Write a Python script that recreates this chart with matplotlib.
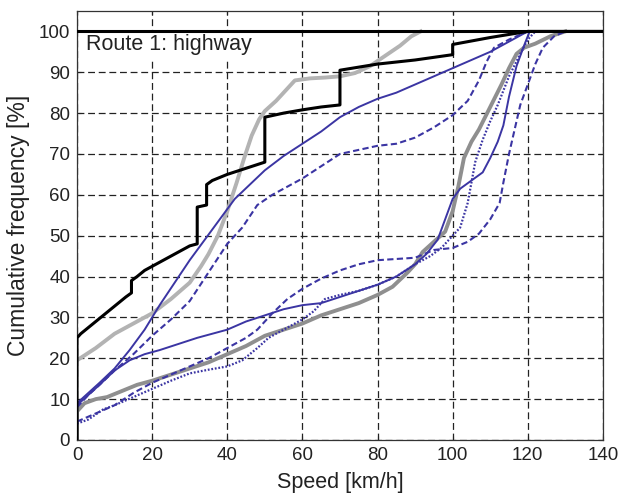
import numpy as np
import matplotlib.pyplot as plt

plt.rcParams.update({
    'font.family': ['Liberation Sans', 'DejaVu Sans'],
    'font.size': 13,
    'xtick.direction': 'in',
    'ytick.direction': 'in',
    'xtick.top': True,
    'ytick.right': True,
})

# black step curve
black_x = [0, 0, 1, 3, 5, 7, 9, 11, 13, 14.5, 14.5, 16, 18, 20, 22, 24, 26, 28, 30, 32, 32,
           34.5, 34.5, 36, 40, 45, 50, 50, 55, 60, 65, 70, 70, 80, 90, 100, 100, 110, 120, 140]
black_y = [0, 25, 26, 27.5, 29, 30.5, 32, 33.5, 35, 36, 39, 40, 41.5, 42.5, 43.5, 44.5, 45.5, 46.5, 47.5, 48, 57,
           57.5, 62.5, 63.5, 65, 66.5, 68, 79, 80, 80.8, 81.5, 82, 90.5, 92, 93, 94.3, 96.8, 98.5, 100, 100]

# light grey (upper)
lgrey_x = [0, 5, 10, 15, 20, 25, 30, 33, 35, 37.5, 40, 42.5, 44.5, 46.5, 48.5, 50, 53, 56, 58,
           62, 66, 70, 74, 78, 82, 86, 89, 91.5]
lgrey_y = [19.5, 22.5, 26, 28.5, 31, 34.5, 38.5, 42.5, 45.5, 50, 56, 63, 69, 74.5, 78.5, 80.5, 83, 86, 88,
           88.5, 88.7, 89, 89.8, 91.5, 94, 96.5, 98.8, 100]

# dark grey (lower)
dgrey_x = [0, 0, 2, 5, 8, 12, 16, 20, 25, 30, 35, 40, 45, 50, 55, 60, 65, 70, 75, 80, 84, 88, 90, 92,
           95, 98, 100, 101.5, 103, 105, 107, 110, 113, 115, 117, 119, 122, 126, 130]
dgrey_y = [0, 7, 9, 10, 10.5, 12, 13.5, 14.5, 16, 17.5, 19, 21, 23, 25.5, 27, 28.5, 30.5, 32, 33.5, 35.5, 37.5, 41, 43, 46,
           48.5, 51, 56, 62, 69, 73, 76, 81.5, 87, 91, 94.5, 96, 97, 98.8, 100]

# blue upper solid
bus_x = [0, 3, 6, 10, 14, 18, 22, 26, 30, 34, 38, 42, 46, 50, 55, 60, 65, 70, 75, 80, 85, 90, 95, 100,
         105, 110, 115, 120]
bus_y = [9, 11.5, 14, 17.5, 22, 27, 33, 38.5, 44, 49, 54, 59, 62.5, 66, 69.5, 72.5, 75.5, 79, 81.5, 83.5, 85, 87, 89, 91,
         93, 95, 97.5, 100]

# blue upper dashed
bud_x = [0, 3, 6, 10, 15, 20, 25, 30, 35, 40, 44, 48, 52, 56, 60, 65, 70, 75, 80, 85, 90, 95, 100,
         104, 107, 109, 111, 115, 120]
bud_y = [8, 11, 13.5, 17, 21, 25.5, 29.5, 34, 41, 48, 52, 57.5, 60, 62, 64, 67, 70, 71, 72, 72.5, 74, 76.5, 79.5,
         83, 88, 92.5, 96, 98, 100]

# blue lower solid
bls_x = [0, 3, 6, 10, 14, 18, 22, 27, 32, 36, 40, 45, 50, 55, 60, 65, 70, 75, 80, 85, 90, 93, 96, 98,
         100, 102, 105, 108, 110, 112, 113.5, 115, 117, 119, 120.5]
bls_y = [8.5, 11, 13.5, 17, 19.5, 21, 22, 23.5, 25, 26, 27, 29, 30.5, 32, 33, 33.5, 35, 36.5, 38, 40, 43, 45.5, 49, 54,
         59, 61.5, 63.5, 65.5, 69, 73, 77, 84, 91.5, 96.5, 100]

# blue lower dashed
bld_x = [0, 5, 10, 15, 20, 25, 30, 35, 40, 45, 48, 52, 56, 60, 65, 70, 75, 80, 85, 90, 95, 100,
         104, 107, 110, 112.5, 113.5, 115, 116.5, 118, 120, 122, 124, 127, 130]
bld_y = [4.5, 6.5, 8.5, 11.5, 14, 16, 18, 20, 22.5, 25, 27, 31, 34.5, 37, 39.5, 41.5, 43, 44, 44.3, 44.6, 46.5, 47,
         48.5, 50.5, 54, 58, 63, 70, 76, 82, 87, 92, 96, 98.8, 100]

# blue dotted
bdot_x = [0, 3, 7, 10, 15, 20, 25, 30, 35, 40, 44, 48, 51, 54, 57, 60, 63, 66, 70, 75, 80, 85, 90,
          94, 97, 100, 102, 104, 105, 106, 108, 110, 112, 115, 118, 120, 122]
bdot_y = [4, 5, 7.5, 8.5, 10.5, 12.5, 14.5, 16.3, 17.2, 18, 19.5, 22.5, 25, 26.5, 28, 29.5, 31.5, 34.5, 35.5, 36.5, 38, 40, 43,
          45, 47, 50, 52, 58, 63, 68, 73.5, 78, 82, 89, 94.5, 98, 100]

blue = '#3b35a3'

fig = plt.figure(figsize=(6.18, 4.98), dpi=100)
ax = fig.add_axes([0.1246, 0.1165, 0.851, 0.8615])

ax.plot(lgrey_x, lgrey_y, color='#b3b3b3', lw=2.8, zorder=2)
ax.plot(dgrey_x, dgrey_y, color='#8f8f8f', lw=2.8, zorder=2)
ax.plot(bus_x, bus_y, color=blue, lw=1.4, zorder=3)
ax.plot(bud_x, bud_y, color=blue, lw=1.5, dashes=(3, 1.6), zorder=3)
ax.plot(bls_x, bls_y, color=blue, lw=1.4, zorder=3)
ax.plot(bld_x, bld_y, color=blue, lw=1.5, dashes=(3, 1.6), zorder=3)
ax.plot(bdot_x, bdot_y, color=blue, lw=1.6, dashes=(0.8, 0.8), zorder=3)
ax.plot(black_x, black_y, color='black', lw=2.2, zorder=4)
ax.axhline(100, color='black', lw=2.2, zorder=4)

ax.text(2.5, 96.7, 'Route 1: highway', fontsize=15.5, va='center', ha='left', zorder=2.5,
        color='#222222', bbox=dict(boxstyle='square,pad=0.2', fc='white', ec='none'))

ax.set_xlim(0, 140)
ax.set_ylim(0, 105)
ax.set_xticks(np.arange(0, 141, 20))
ax.set_yticks(np.arange(0, 101, 10))
ax.grid(True, color='#222222', linestyle=(0, (5.5, 3)), lw=0.9)
ax.set_axisbelow(True)
ax.tick_params(length=3, width=0.8, labelsize=13.5, colors='#222222', pad=5)
for s in ax.spines.values():
    s.set_color('#333333')
    s.set_linewidth(0.9)

ax.set_xlabel('Speed [km/h]', fontsize=15.5, color='#222222', labelpad=6)
ax.set_ylabel('Cumulative frequency [%]', fontsize=16.5, color='#222222', labelpad=6)

fig.savefig('out.png', dpi=100)
